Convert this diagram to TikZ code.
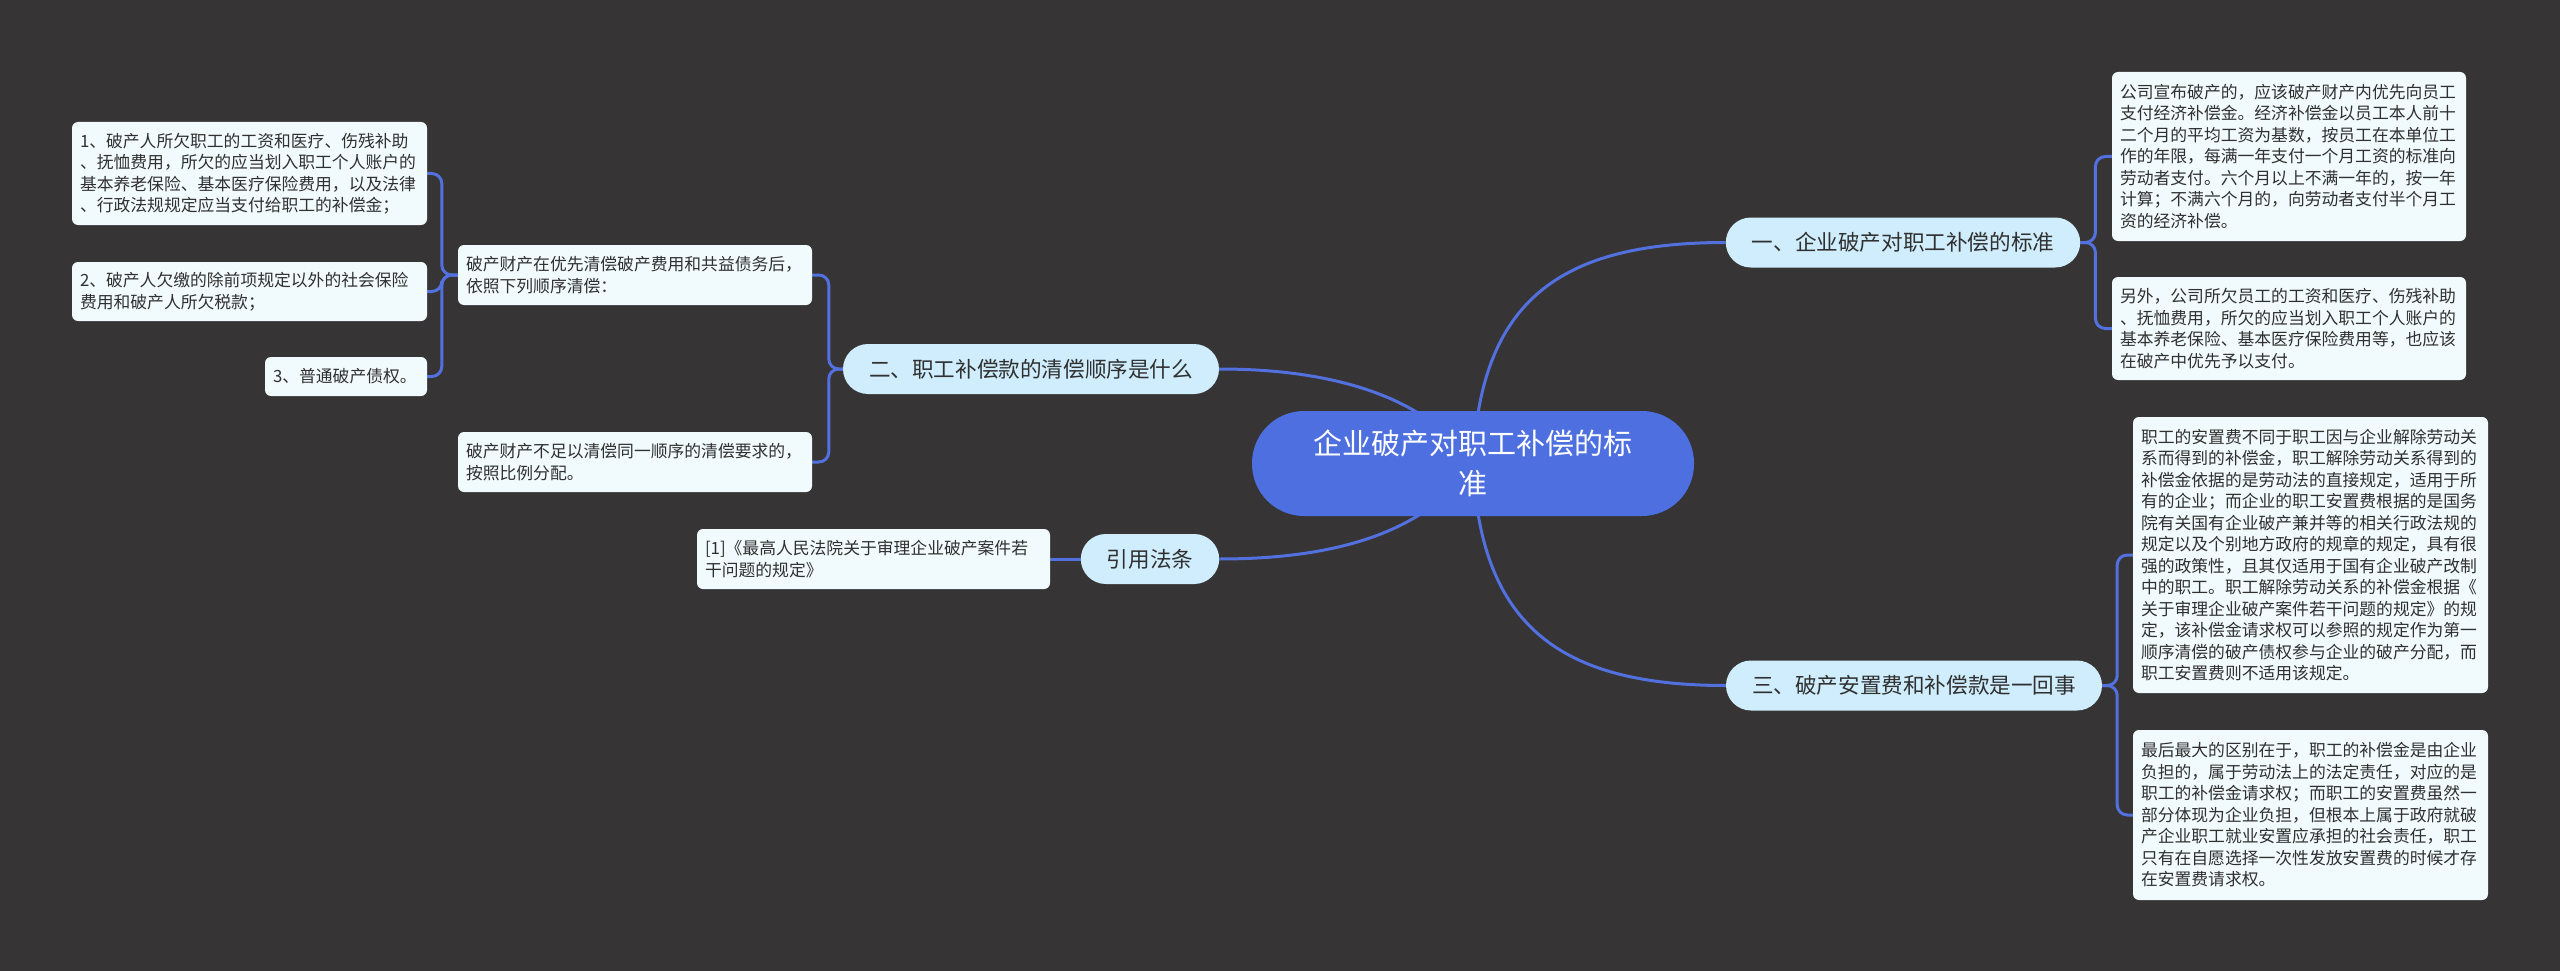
\documentclass[tikz,border=0pt]{standalone}
\usepackage{fontspec}
\setmainfont{Noto Sans CJK SC}
\pgfdeclarelayer{bg}
\pgfdeclarelayer{lines}
\pgfsetlayers{bg,lines,main}
\definecolor{bgc}{RGB}{54,52,53}
\definecolor{linec}{RGB}{82,112,222}
\definecolor{centerc}{RGB}{77,111,224}
\definecolor{topicc}{RGB}{207,237,252}
\definecolor{leafc}{RGB}{241,250,253}
\definecolor{textc}{RGB}{48,48,48}
\newcommand{\leaffont}{\fontsize{16.8}{21.5}\selectfont}
\newcommand{\topicfont}{\fontsize{21.6}{26}\selectfont}
\newcommand{\rootfont}{\fontsize{29}{40}\selectfont}
\begin{document}
\begin{tikzpicture}[x=1pt,y=-1pt,
  rootnode/.style={fill=centerc, text=white, font=\rootfont, align=center,
    rounded corners=52pt, minimum width=442pt, minimum height=105pt, inner sep=0pt},
  topic/.style={fill=topicc, text=textc, font=\topicfont, rounded corners=25pt,
    minimum height=50pt, inner xsep=26pt, inner ysep=0pt},
  leaf/.style={fill=leafc, text=textc, font=\leaffont, align=left,
    rounded corners=6pt, inner xsep=8pt, inner ysep=0pt},
  conn/.style={draw=linec, line width=3pt},
  bracket/.style={conn, rounded corners=10pt}]

\begin{pgfonlayer}{bg}
\fill[bgc] (0,0) rectangle (2560,971);
\end{pgfonlayer}
\useasboundingbox (0,0) rectangle (2560,971);

% root
\node[rootnode] (c) at (1473,463.5) {企业破产对职工补偿的标\\准};

% level 1
\node[topic] (b1) at (1903,242.5) {一、企业破产对职工补偿的标准};
\node[topic] (b3) at (1914,685.5) {三、破产安置费和补偿款是一回事};
\node[topic] (b2) at (1031,369) {二、职工补偿款的清偿顺序是什么};
\node[topic] (b4) at (1150,559) {引用法条};

% right leaves
\node[leaf, text width=338pt, minimum height=169pt] (r1) at (2289,156.5) {公司宣布破产的，应该破产财产内优先向员工\\支付经济补偿金。经济补偿金以员工本人前十\\二个月的平均工资为基数，按员工在本单位工\\作的年限，每满一年支付一个月工资的标准向\\劳动者支付。六个月以上不满一年的，按一年\\计算；不满六个月的，向劳动者支付半个月工\\资的经济补偿。};
\node[leaf, text width=338pt, minimum height=103pt] (r2) at (2289,328.5) {另外，公司所欠员工的工资和医疗、伤残补助\\、抚恤费用，所欠的应当划入职工个人账户的\\基本养老保险、基本医疗保险费用等，也应该\\在破产中优先予以支付。};
\node[leaf, text width=339pt, minimum height=276pt] (r3) at (2310.5,555) {职工的安置费不同于职工因与企业解除劳动关\\系而得到的补偿金，职工解除劳动关系得到的\\补偿金依据的是劳动法的直接规定，适用于所\\有的企业；而企业的职工安置费根据的是国务\\院有关国有企业破产兼并等的相关行政法规的\\规定以及个别地方政府的规章的规定，具有很\\强的政策性，且其仅适用于国有企业破产改制\\中的职工。职工解除劳动关系的补偿金根据《\\关于审理企业破产案件若干问题的规定》的规\\定，该补偿金请求权可以参照的规定作为第一\\顺序清偿的破产债权参与企业的破产分配，而\\职工安置费则不适用该规定。};
\node[leaf, text width=339pt, minimum height=170pt] (r4) at (2310.5,815) {最后最大的区别在于，职工的补偿金是由企业\\负担的，属于劳动法上的法定责任，对应的是\\职工的补偿金请求权；而职工的安置费虽然一\\部分体现为企业负担，但根本上属于政府就破\\产企业职工就业安置应承担的社会责任，职工\\只有在自愿选择一次性发放安置费的时候才存\\在安置费请求权。};

% left leaves
\node[leaf, text width=338pt, minimum height=60pt] (l1) at (635,275) {破产财产在优先清偿破产费用和共益债务后，\\依照下列顺序清偿：};
\node[leaf, text width=338pt, minimum height=60pt] (l2) at (635,462) {破产财产不足以清偿同一顺序的清偿要求的，\\按照比例分配。};
\node[leaf, text width=339pt, minimum height=103pt] (ll1) at (249.5,173.5) {1、破产人所欠职工的工资和医疗、伤残补助\\、抚恤费用，所欠的应当划入职工个人账户的\\基本养老保险、基本医疗保险费用，以及法律\\、行政法规规定应当支付给职工的补偿金；};
\node[leaf, text width=339pt, minimum height=59pt] (ll2) at (249.5,291.5) {2、破产人欠缴的除前项规定以外的社会保险\\费用和破产人所欠税款；};
\node[leaf, text width=146pt, minimum height=39pt] (ll3) at (346,376.5) {3、普通破产债权。};
\node[leaf, text width=337pt, minimum height=60pt] (ref) at (873.5,559) {[1]《最高人民法院关于审理企业破产案件若\\干问题的规定》};

% connectors
\begin{pgfonlayer}{lines}
\draw[conn] (c.center) .. controls (1480,300) and (1560,242.5) .. (b1.west);
\draw[conn] (c.center) .. controls (1480,626) and (1560,685.5) .. (b3.west);
\draw[conn] (c.center) .. controls (1425,395) and (1330,369) .. (b2.east);
\draw[conn] (c.center) .. controls (1425,535) and (1330,559) .. (b4.east);

\draw[bracket] (b1.east) -- ++(15,0) |- (r1.west);
\draw[bracket] (b1.east) -- ++(15,0) |- (r2.west);
\draw[bracket] (b3.east) -- ++(15,0) |- (r3.west);
\draw[bracket] (b3.east) -- ++(15,0) |- (r4.west);

\draw[bracket] (b2.west) -- ++(-14,0) |- (l1.east);
\draw[bracket] (b2.west) -- ++(-14,0) |- (l2.east);

\draw[bracket] (l1.west) -- ++(-16,0) |- (ll1.east);
\draw[bracket] (l1.west) -- ++(-16,0) |- (ll2.east);
\draw[bracket] (l1.west) -- ++(-16,0) |- (ll3.east);

\draw[conn] (b4.west) -- (ref.east);
\end{pgfonlayer}
\end{tikzpicture}
\end{document}
